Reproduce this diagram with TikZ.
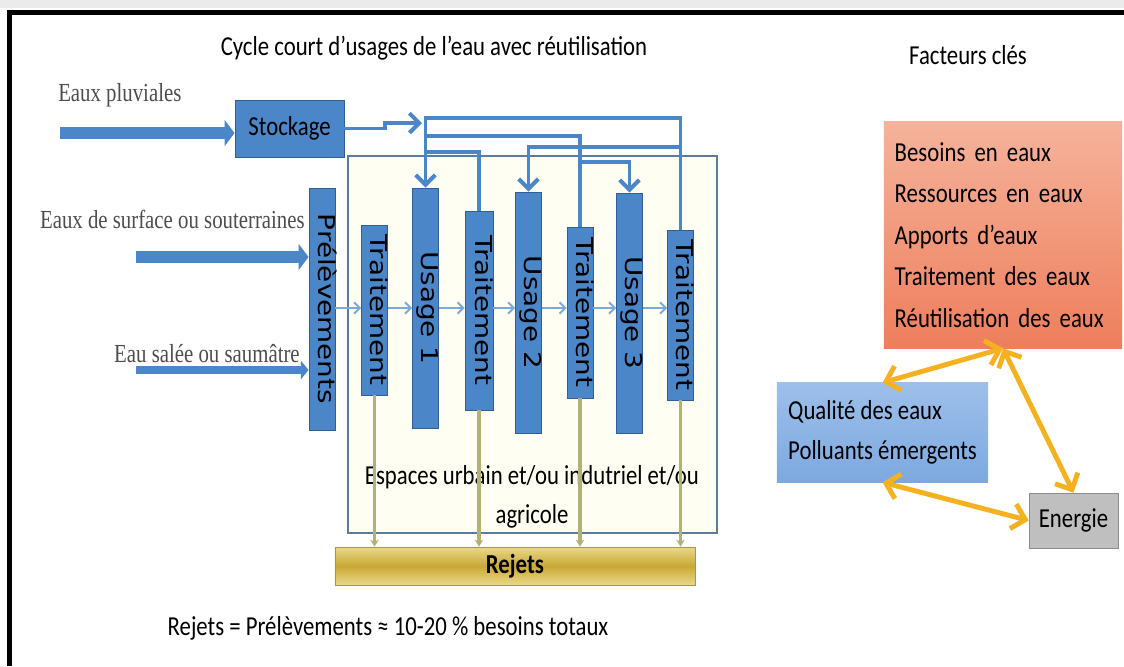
\documentclass[tikz,border=0pt]{standalone}
\usepackage{fontspec}
\setmainfont{Carlito}[FakeStretch=0.83]
\newfontfamily\leftserif{Liberation Serif}[FakeStretch=0.8]
\newfontfamily\barfont{DejaVu Sans}[FakeStretch=1.2]
\usetikzlibrary{arrows.meta, positioning}
\definecolor{pipeblue}{HTML}{4A86C8}
\definecolor{boxedge}{HTML}{2F5F94}
\definecolor{flowblue}{HTML}{7AAAD8}
\definecolor{drainolive}{HTML}{B2B274}
\definecolor{goldmid}{HTML}{C9A834}
\definecolor{goldlight}{HTML}{EAD88A}
\definecolor{goldedge}{HTML}{A89650}
\definecolor{zonefill}{HTML}{FFFEF2}
\definecolor{zoneedge}{HTML}{5B7B9B}
\definecolor{keytop}{HTML}{F5B39B}
\definecolor{keybot}{HTML}{EE7E5C}
\definecolor{qualtop}{HTML}{9DBFEA}
\definecolor{qualbot}{HTML}{7DA9E0}
\definecolor{linkorange}{HTML}{F5B120}
\definecolor{labelgrey}{HTML}{4D4D4D}

\begin{document}
\begin{tikzpicture}[x=0.025cm, y=-0.025cm,
    txt/.style={font=\fontsize{19.5}{22}\selectfont, inner sep=0pt},
    srclabel/.style={font=\leftserif\fontsize{18.5}{22}\selectfont, text=labelgrey, inner sep=0pt},
    vbox/.style={rotate=-90, draw=boxedge, fill=pipeblue, line width=0.6pt, minimum height=0.65cm, inner sep=0pt,
      text height=0.76em, text depth=0.22em, font=\barfont\fontsize{16.5}{18}\selectfont},
    inflow/.style={draw=pipeblue, line width=8.5pt, -{Triangle[length=7pt,width=18pt]}},
    pipe/.style={draw=pipeblue, line width=2.8pt},
    feed/.style={pipe, -{Straight Barb[length=7pt,width=14pt]}},
    flow/.style={draw=flowblue, line width=1.4pt, -{Straight Barb[length=4pt,width=8pt]}},
    drain/.style={draw=drainolive, line width=2.2pt, -{Stealth[length=5pt,width=6pt]}},
    link/.style={draw=linkorange, line width=3.5pt,
      {Straight Barb[length=9pt,width=18pt]}-{Straight Barb[length=9pt,width=18pt]}}
  ]
  \useasboundingbox (0,0) rectangle (1124,666);
  % frame
  \fill[black!8] (0,0) rectangle (1124,8);
  \fill[black] (7,10) rectangle (1124,15);
  \fill[black] (7,10) rectangle (12,666);

  \node[txt] (title) at (434,48) {Cycle court d’usages de l’eau avec réutilisation};
  \node[txt] (keys) at (968,55) {Facteurs clés};

  % usage zone
  \node[draw=zoneedge, fill=zonefill, line width=0.8pt, minimum width=9.225cm, minimum height=9.425cm] (zone) at (532.5,344.5) {};
  \node[txt, align=center, font=\fontsize{19.5}{27.7}\selectfont] (espace) at (532,497) {Espaces urbain et/ou indutriel et/ou\\agricole};

  \node[txt, draw=boxedge, fill=pipeblue, line width=0.6pt, minimum width=2.725cm, minimum height=1.425cm] (stock) at (289.5,128.5) {Stockage};
  \node[vbox, minimum width=6.05cm] (prel) at (322,309) {Prélèvements};
  \node[vbox, minimum width=4.25cm] (t1) at (374.5,310) {Traitement};
  \node[vbox, minimum width=6cm] (u1) at (425.5,308) {Usage 1};
  \node[vbox, minimum width=4.975cm, minimum height=0.7cm] (t2) at (479,310.5) {Traitement};
  \node[vbox, minimum width=6.025cm] (u2) at (528.5,312.5) {Usage 2};
  \node[vbox, minimum width=4.275cm] (t3) at (580,312.5) {Traitement};
  \node[vbox, minimum width=6cm] (u3) at (629.5,313) {Usage 3};
  \node[vbox, minimum width=4.25cm] (t4) at (680.5,315) {Traitement};

  % sources
  \node[srclabel, anchor=base west] (rain) at (58,101) {Eaux pluviales};
  \node[srclabel, anchor=base east] (surf) at (305,228) {Eaux de surface ou souterraines};
  \node[srclabel, anchor=base east] (salt) at (300,362) {Eau salée ou saumâtre};
  \coordinate (rainin) at (60,133);
  \coordinate (surfin) at (136,257);
  \coordinate (saltin) at (136,370);
  \draw[inflow] (rainin) -- (rainin -| stock.west);
  \draw[inflow] (surfin) -- (surfin -| prel.south);
  \draw[inflow, line width=5.7pt, -{Triangle[length=5.5pt,width=13pt]}] (saltin) -- (saltin -| prel.south);

  % reuse pipes
  \coordinate (hub) at (425.5,118);
  \coordinate (hubmid) at (425.5,136);
  \coordinate (hublow) at (425.5,152);
  \coordinate (stockin) at (422,123);
  \draw[feed] (stock.east) -- ++(41,0) |- (stockin);
  \draw[feed] (t4.west) |- (hub) -- (u1.west);
  \draw[pipe] (t3.west) |- (hubmid);
  \draw[pipe] (t2.west) |- (hublow);
  \draw[feed] (t4.west |- 0,147) -| (u2.west);
  \draw[feed] (t3.west |- 0,162) -| (u3.west);

  \foreach \a/\b in {prel/t1, t1/u1, u1/t2, t2/u2, u2/t3, t3/u3, u3/t4}
    \draw[flow] (\a.north |- 0,308) -- (\b.south |- 0,308);

  % rejets
  \node[txt, font=\bfseries\fontsize{19.5}{22}\selectfont, draw=goldedge, top color=goldlight, bottom color=goldlight,
    middle color=goldmid, minimum width=9cm, minimum height=0.95cm] (rej) at (515,566) {Rejets};
  \foreach \t in {t1,t2,t3,t4}
    \draw[drain] (\t.east) -- (\t.east |- rej.north);
  \node[txt] (formula) at (388,628) {Rejets = Prélèvements ≈ 10-20 \% besoins totaux};

  % key factors
  \node[txt, top color=keytop, bottom color=keybot, minimum width=5.95cm, minimum height=5.65cm, text width=154pt,
    inner xsep=7pt, align=left, font=\fontsize{19.5}{29.5}\selectfont] (need) at (1003,235)
    {Besoins en eaux\\Ressources en eaux\\Apports d’eaux\\Traitement des eaux\\Réutilisation des eaux};
  \node[txt, top color=qualtop, bottom color=qualbot, minimum width=5.275cm, minimum height=2.475cm,
    align=left, font=\fontsize{19.5}{28.5}\selectfont] (qual) at (882.5,432.5)
    {Qualité des eaux\\Polluants émergents};
  \node[txt, fill=black!25, draw=black!45, minimum width=2.225cm, minimum height=1.375cm] (ener) at (1073.5,520.5) {Energie};
  \draw[link] (qual.north) -- (need.south);
  \draw[link] (need.south) -- (ener.north);
  \draw[link] (qual.south) -- (ener.west);
\end{tikzpicture}
\end{document}
